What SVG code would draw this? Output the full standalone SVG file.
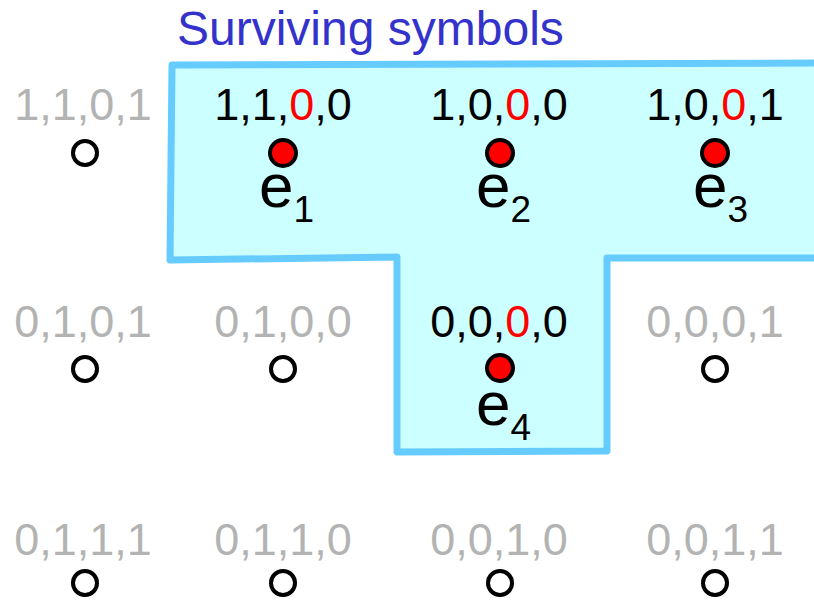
<svg xmlns="http://www.w3.org/2000/svg" width="814" height="601" viewBox="0 0 814 601">
<style>
text{font-family:"Liberation Sans",Arial,sans-serif}
.lab{font-size:45px;text-anchor:middle}
.on{fill:#000}
.off{fill:#b3b3b3}
.r{fill:#ff0000}
.e{font-size:62px;fill:#000}
.sub{font-size:37px}
.hole{fill:#fff;stroke:#000;stroke-width:4}
.dot{fill:#ff0000;stroke:#000;stroke-width:4}
</style>
<rect width="814" height="601" fill="#fff"/>
<g id="region">
<polygon points="172,65 820,63 820,258 607,258 607,451 397,452 397,257 170,260" fill="#ccffff" stroke="#66ccff" stroke-width="7" stroke-linejoin="round"/>
</g>
<text id="title" x="177" y="45" font-size="48" fill="#3333cc">Surviving symbols</text>
<g id="n1101"><text class="lab off" x="83" y="120">1,1,0,1</text><circle class="hole" cx="85" cy="153" r="12"/></g>
<g id="n1100"><text class="lab on" x="283" y="120">1,1,<tspan class="r">0</tspan>,0</text><circle class="dot" cx="283" cy="153" r="13"/><text class="e" x="259" y="207">e<tspan class="sub" dy="15">1</tspan></text></g>
<g id="n1000"><text class="lab on" x="499" y="120">1,0,<tspan class="r">0</tspan>,0</text><circle class="dot" cx="500" cy="153" r="13"/><text class="e" x="476" y="207">e<tspan class="sub" dy="15">2</tspan></text></g>
<g id="n1001"><text class="lab on" x="715" y="120">1,0,<tspan class="r">0</tspan>,1</text><circle class="dot" cx="715" cy="153" r="13"/><text class="e" x="693" y="207">e<tspan class="sub" dy="15">3</tspan></text></g>
<g id="n0101"><text class="lab off" x="83" y="337">0,1,0,1</text><circle class="hole" cx="85" cy="369" r="12"/></g>
<g id="n0100"><text class="lab off" x="283" y="337">0,1,0,0</text><circle class="hole" cx="283" cy="369" r="12"/></g>
<g id="n0000"><text class="lab on" x="499" y="337">0,0,<tspan class="r">0</tspan>,0</text><circle class="dot" cx="500" cy="368" r="13"/><text class="e" x="476" y="425">e<tspan class="sub" dy="15">4</tspan></text></g>
<g id="n0001"><text class="lab off" x="715" y="337">0,0,0,1</text><circle class="hole" cx="715" cy="369" r="12"/></g>
<g id="n0111"><text class="lab off" x="83" y="555">0,1,1,1</text><circle class="hole" cx="85" cy="583" r="12"/></g>
<g id="n0110"><text class="lab off" x="283" y="555">0,1,1,0</text><circle class="hole" cx="283" cy="583" r="12"/></g>
<g id="n0010"><text class="lab off" x="499" y="555">0,0,1,0</text><circle class="hole" cx="500" cy="583" r="12"/></g>
<g id="n0011"><text class="lab off" x="715" y="555">0,0,1,1</text><circle class="hole" cx="715" cy="583" r="12"/></g>
<g id="connectors"></g>
</svg>
